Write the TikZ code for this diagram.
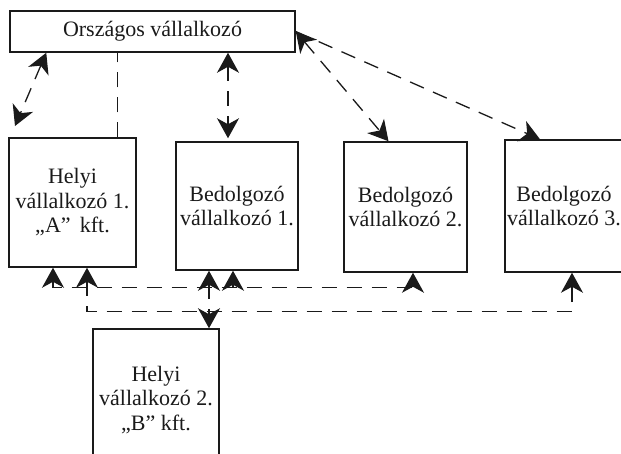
\documentclass[tikz,border=0pt]{standalone}
\usepackage{fontspec}
\setmainfont{Liberation Serif}
\usetikzlibrary{arrows.meta}
\definecolor{ink}{HTML}{1A1A1A}
\begin{document}
\begin{tikzpicture}[x=1pt,y=-1pt,
  >={Stealth[length=20pt,width=22pt,inset=6pt]},
  box/.style={draw=ink, line width=1.5pt, inner sep=0pt, align=center,
    text=ink, font=\fontsize{22}{24.5}\selectfont},
  link/.style={draw=ink, line width=1.3pt, dash pattern=on 15pt off 10pt},
  both/.style={link, <->},
  one/.style={link, ->}
]
\useasboundingbox (0,0) rectangle (621,453);

% boxes
\node[box, minimum width=285pt, minimum height=41pt] (top) at (152.5,31.5) {Országos vállalkozó};
\node[box, minimum width=127pt, minimum height=129pt] (hA) at (72.5,202.5) {Helyi\\vállalkozó 1.\\„A”\, kft.};
\node[box, minimum width=122pt, minimum height=128pt] (b1) at (237,206) {Bedolgozó\\vállalkozó 1.};
\node[box, minimum width=123pt, minimum height=130pt] (b2) at (405.5,207) {Bedolgozó\\vállalkozó 2.};
\node[box, minimum width=118pt, minimum height=132pt] (b3) at (564,206) {Bedolgozó\\vállalkozó 3.};
\node[box, minimum width=126pt, minimum height=142pt] (hB) at (156,400) {Helyi\\vállalkozó 2.\\„B” kft.};

% upper links
\coordinate (a1) at (15,126);
\draw[both] ([xshift=37pt]top.south west) -- (a1);

\coordinate (c2) at ([xshift=-19pt]hA.north east);
\draw[link] (c2) -- (c2 |- top.south);

\coordinate (c3) at ([xshift=-9pt,yshift=3pt]b1.north);
\draw[both] (c3 |- top.south) -- (c3);

\draw[both] (top.east) -- ([xshift=-17pt]b2.north);
\draw[one] (top.east) -- ([xshift=-24pt]b3.north);

% lower links
\coordinate (u0) at ([xshift=-19.5pt,yshift=-20pt]hA.south);
\coordinate (k1) at ([xshift=-4pt]b1.south);
\draw[both] ([xshift=-19.5pt]hA.south) -- (u0) -| ([xshift=7.5pt]b2.south);
\draw[one] (u0 -| k1) -- (k1);

\coordinate (l0) at ([xshift=14.5pt,yshift=-44pt]hA.south);
\draw[both] ([xshift=14.5pt]hA.south) -- (l0) -| ([xshift=8pt]b3.south);

\coordinate (v1) at ([xshift=-28pt]b1.south);
\draw[both] (v1) -- (v1 |- hB.north);
\end{tikzpicture}
\end{document}
